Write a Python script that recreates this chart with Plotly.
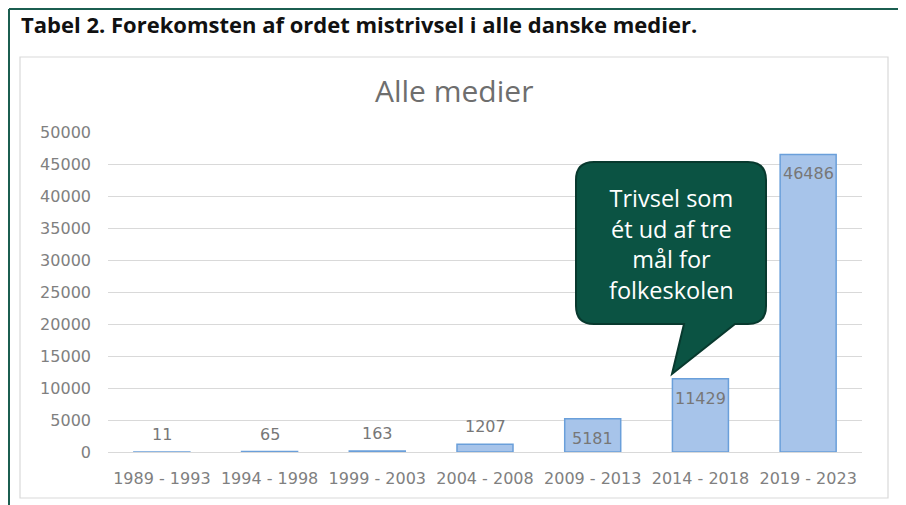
import plotly.graph_objects as go

categories = ["1989 - 1993", "1994 - 1998", "1999 - 2003", "2004 - 2008",
              "2009 - 2013", "2014 - 2018", "2019 - 2023"]
values = [11, 65, 163, 1207, 5181, 11429, 46486]
y_ticks = [0, 5000, 10000, 15000, 20000, 25000, 30000, 35000, 40000, 45000, 50000]

# page has an 8px body margin; work in page pixel coordinates
O = 8
W, H = 898, 497
PL, PR, PT, PB = 108, 862, 132, 452  # plot area in page pixels
L, T = PL - O, PT - O
R, B = W - (PR - O), H - (PB - O)
pw, ph = W - L - R, H - T - B

def px(x):
    return (x - O - L) / pw

def py(y):
    return (H - B - (y - O)) / ph

TICKFONT = dict(family="DejaVu Sans, sans-serif", size=16, color="#808080")
LABELFONT = dict(family="DejaVu Sans, sans-serif", size=16, color="#777777")

fig = go.Figure()
fig.add_trace(go.Bar(
    x=categories, y=values,
    marker=dict(color="#a7c4ea", line=dict(color="#6a9fda", width=1.5)),
    width=0.52,
))

annotations = []
for c, v in zip(categories, values):
    if v < 3000:
        annotations.append(dict(x=c, y=v, xref="x", yref="y", text=str(v), showarrow=False,
                                yanchor="bottom", yshift=6, font=LABELFONT))
    else:
        annotations.append(dict(x=c, y=v, xref="x", yref="y", text=str(v), showarrow=False,
                                yanchor="top", yshift=-8, font=LABELFONT))

shapes = []
FRAME = dict(color="#1b5e50", width=2)
# outer green frame (left, top, right)
shapes.append(dict(type="line", xref="paper", yref="paper",
                   x0=px(9), x1=px(9), y0=py(520), y1=py(9), line=FRAME))
shapes.append(dict(type="line", xref="paper", yref="paper",
                   x0=px(9), x1=px(903), y0=py(9), y1=py(9), line=FRAME))
shapes.append(dict(type="line", xref="paper", yref="paper",
                   x0=px(903), x1=px(903), y0=py(520), y1=py(9), line=FRAME))
# inner gray chart box
shapes.append(dict(type="rect", xref="paper", yref="paper",
                   x0=px(20), x1=px(888), y0=py(498), y1=py(57),
                   line=dict(color="#d9d9d9", width=1.2), fillcolor="rgba(0,0,0,0)", layer="below"))
# callout bubble
x0, x1, y0, y1, r = 576, 766, 162, 324, 18
tx, ty = 672, 374
bx0, bx1 = 684, 735
pts = [
    (x0 + r, y0), (x1 - r, y0), ("Q", x1, y0, x1, y0 + r), (x1, y1 - r),
    ("Q", x1, y1, x1 - r, y1), (bx1, y1), (tx, ty), (bx0, y1), (x0 + r, y1),
    ("Q", x0, y1, x0, y1 - r), (x0, y0 + r), ("Q", x0, y0, x0 + r, y0)
]
path = f"M {px(pts[0][0])},{py(pts[0][1])}"
for p in pts[1:]:
    if p[0] == "Q":
        path += f" Q {px(p[1])},{py(p[2])} {px(p[3])},{py(p[4])}"
    else:
        path += f" L {px(p[0])},{py(p[1])}"
path += " Z"
shapes.append(dict(type="path", xref="paper", yref="paper", path=path,
                   fillcolor="#0b5343", line=dict(color="#08392e", width=2), layer="above"))

annotations += [
    dict(text="<b>Tabel 2. Forekomsten af ordet mistrivsel i alle danske medier.</b>",
         xref="paper", yref="paper", x=px(19), y=py(24), xanchor="left", yanchor="middle",
         showarrow=False, font=dict(family="Open Sans, sans-serif", size=22, color="#111111")),
    dict(text="Alle medier", xref="paper", yref="paper", x=px(454), y=py(91),
         xanchor="center", yanchor="middle", showarrow=False,
         font=dict(family="Open Sans, sans-serif", size=30, color="#6e6e6e")),
    dict(text="Trivsel som<br>ét ud af tre<br>mål for<br>folkeskolen", xref="paper", yref="paper",
         x=px(671), y=py(244), xanchor="center", yanchor="middle", showarrow=False, align="center",
         font=dict(family="Open Sans, sans-serif", size=23.5, color="white")),
]

fig.update_layout(
    width=W, height=H,
    margin=dict(l=L, r=R, t=T, b=B, autoexpand=False),
    paper_bgcolor="white", plot_bgcolor="white",
    showlegend=False,
    shapes=shapes, annotations=annotations,
    xaxis=dict(showline=True, linecolor="#d9d9d9", linewidth=1, ticks="",
               tickfont=TICKFONT, ticklabelstandoff=12),
    yaxis=dict(range=[0, 50000], tickvals=y_ticks, ticktext=[str(v) for v in y_ticks],
               showgrid=True, gridcolor="#d9d9d9", gridwidth=1, zeroline=False,
               tickfont=TICKFONT, ticklabelstandoff=16),
)

fig.write_html("out.html")
